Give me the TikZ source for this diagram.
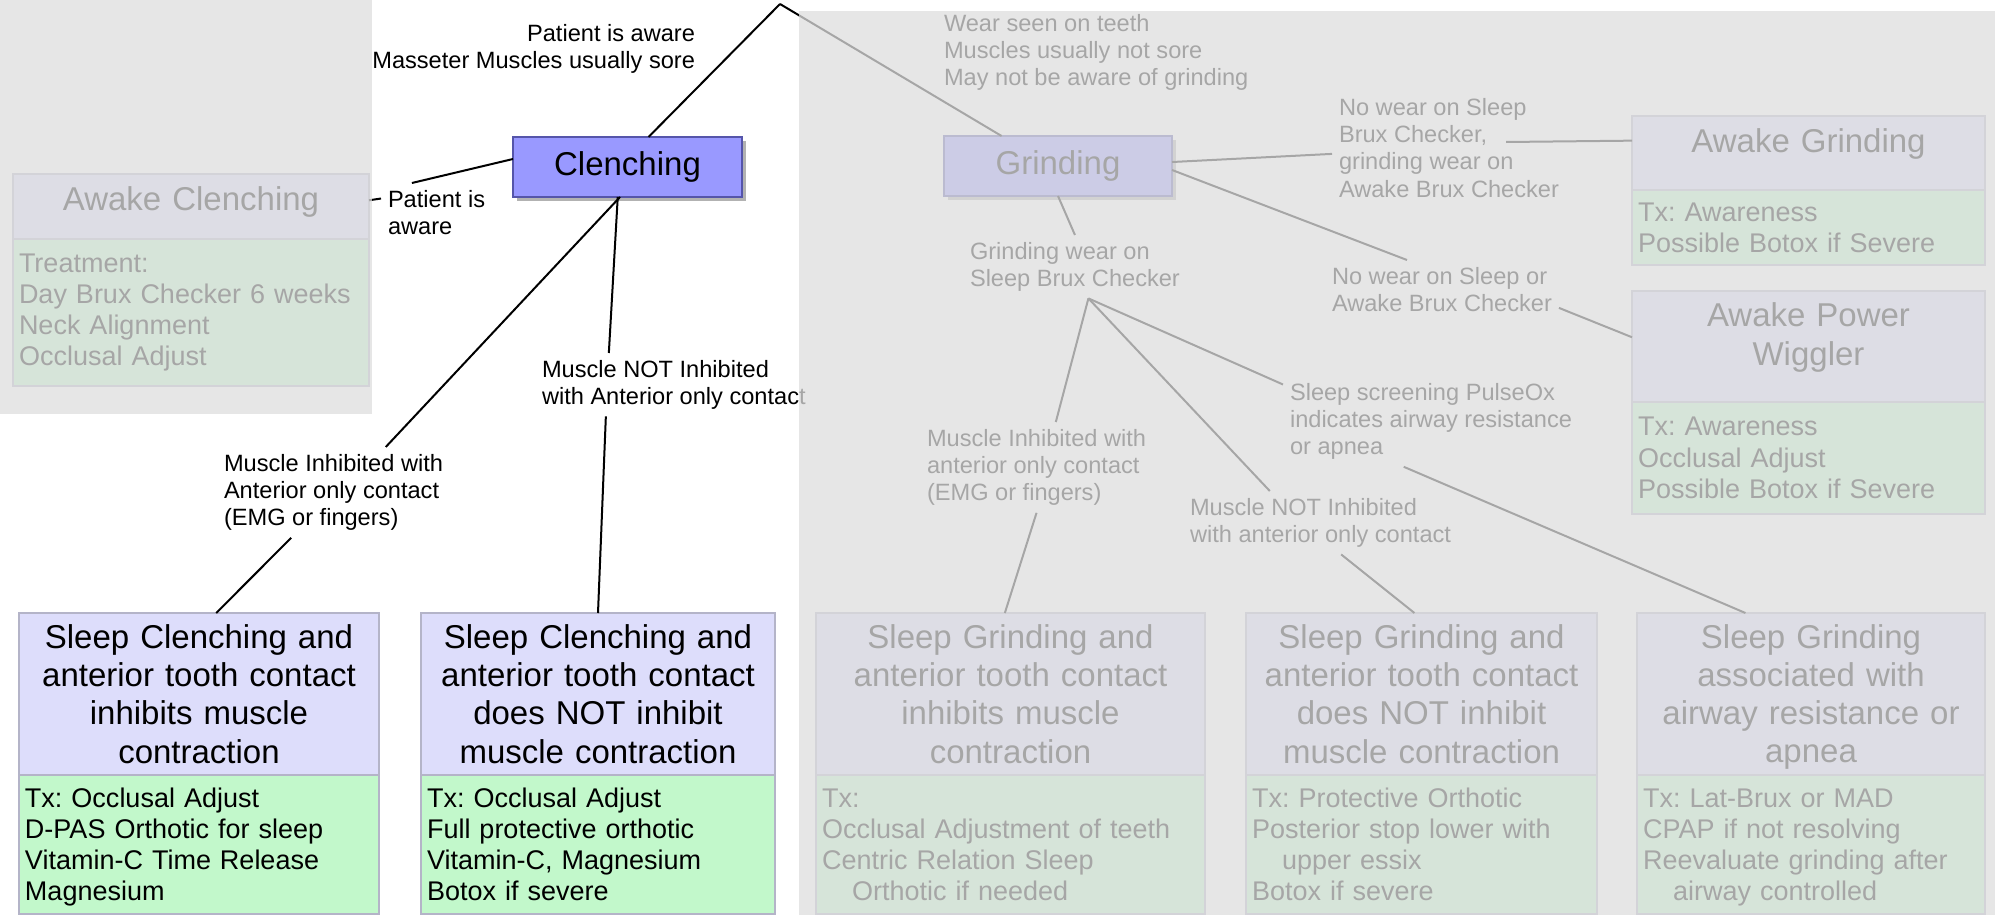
\documentclass[tikz,border=0pt]{standalone}
\usepackage{fontspec}
\setmainfont{Liberation Sans}
\frenchspacing
\usetikzlibrary{positioning,shadows}
\definecolor{boxlav}{HTML}{DDDDFB}
\definecolor{boxgreen}{HTML}{C2F8CB}
\definecolor{boxline}{HTML}{B4B4C8}
\definecolor{clenchblue}{HTML}{9999FF}
\definecolor{clenchline}{HTML}{5555AA}
\definecolor{fadegray}{HTML}{DEDEDE}

\begin{document}
\begin{tikzpicture}[x = 0.5pt, y = -0.5pt, line width = 1pt,
    hdr/.style = {fill = boxlav, draw = boxline, line width = 0.6pt, outer sep = 0pt, inner xsep = 3pt, inner ysep = 2pt, align = center, anchor = north west, font = \fontsize{16.5}{19.1}\selectfont},
    tx/.style = {fill = boxgreen, draw = boxline, line width = 0.6pt, outer sep = 0pt, inner xsep = 3pt, inner ysep = 2pt, align = left, font = \fontsize{13.5}{15.6}\selectfont},
    txb/.style = {tx, minimum height = 68.5pt, execute at begin node = \rule{0pt}{14pt}, execute at end node = \strut},
    main/.style = {fill = clenchblue, draw = clenchline, line width = 0.8pt, outer sep = 0pt, minimum height = 30pt, anchor = north west, font = \fontsize{16.5}{19.1}\selectfont, drop shadow = {shadow xshift = 2pt, shadow yshift = -2pt, fill = black!60, opacity = 0.5}},
    lbl/.style = {inner sep = 3pt, align = left, anchor = north west, font = \fontsize{11.8}{13.7}\selectfont}]
      \useasboundingbox (0, 0) rectangle (1995, 915);

      \node[main, minimum width = 114.5pt] (clench) at (513, 137) {Clenching};
      \node[main, minimum width = 114pt] (grind) at (944, 136) {Grinding};
      \coordinate (root) at (780, 4);

      \node[hdr, text width = 172pt, minimum height = 32.5pt, text depth = 7.7pt] (awc) at (13, 174) {Awake Clenching};
      \node[tx, below = 0pt of awc, text width = 172pt, minimum height = 73.5pt] (awctx) {Treatment:\\Day Brux Checker 6 weeks\\Neck Alignment\\Occlusal Adjust};
      \node[hdr, text width = 170.5pt, minimum height = 37pt, text depth = 12.7pt] (awg) at (1632, 116) {Awake Grinding};
      \node[tx, below = 0pt of awg, text width = 170.5pt, minimum height = 37.5pt] (awgtx) {Tx: Awareness\\Possible Botox if Severe};
      \node[hdr, text width = 170.5pt, minimum height = 55.5pt] (apw) at (1632, 291) {Awake Power\\Wiggler\rule[-12.4pt]{0pt}{12.4pt}};
      \node[tx, below = 0pt of apw, text width = 170.5pt, minimum height = 56pt] (apwtx) {Tx: Awareness\\Occlusal Adjust\\Possible Botox if Severe};

      \node[hdr, text width = 174pt, minimum height = 81pt] (sc1) at (19, 613) {Sleep Clenching and\\anterior tooth contact\\inhibits muscle\\contraction};
      \node[txb, below = 0pt of sc1, text width = 174pt] (sc1tx) {Tx: Occlusal Adjust\\D-PAS Orthotic for sleep\\Vitamin-C Time Release\\Magnesium};
      \node[hdr, text width = 171pt, minimum height = 81pt] (sc2) at (421, 613) {Sleep Clenching and\\anterior tooth contact\\does NOT inhibit\\muscle contraction};
      \node[txb, below = 0pt of sc2, text width = 171pt] (sc2tx) {Tx: Occlusal Adjust\\Full protective orthotic\\Vitamin-C, Magnesium\\Botox if severe};
      \node[hdr, text width = 188.5pt, minimum height = 81pt] (sg1) at (816, 613) {Sleep Grinding and\\anterior tooth contact\\inhibits muscle\\contraction};
      \node[txb, below = 0pt of sg1, text width = 188.5pt] (sg1tx) {Tx:\\Occlusal Adjustment of teeth\\Centric Relation Sleep\\\hspace*{15pt}Orthotic if needed};
      \node[hdr, text width = 169.5pt, minimum height = 81pt] (sg2) at (1246, 613) {Sleep Grinding and\\anterior tooth contact\\does NOT inhibit\\muscle contraction};
      \node[txb, below = 0pt of sg2, text width = 169.5pt] (sg2tx) {Tx: Protective Orthotic\\Posterior stop lower with\\\hspace*{15pt}upper essix\\Botox if severe};
      \node[hdr, text width = 168pt, minimum height = 81pt] (sg3) at (1637, 613) {\rule{0pt}{15pt}Sleep Grinding\\associated with\\airway resistance or\\apnea};
      \node[txb, below = 0pt of sg3, text width = 168pt] (sg3tx) {Tx: Lat-Brux or MAD\\CPAP if not resolving\\Reevaluate grinding after\\\hspace*{15pt}airway controlled};

      \node[lbl, anchor = north east, align = right] (lAware) at (702, 17) {Patient is aware\\Masseter Muscles usually sore};
      \node[lbl] (lPat) at (381, 183) {Patient is\\aware};
      \node[lbl] (lCI) at (217, 447) {Muscle Inhibited with\\Anterior only contact\\(EMG or fingers)};
      \node[lbl] (lCN) at (535, 353) {Muscle NOT Inhibited\\with Anterior only contact};
      \node[lbl] (lWear) at (937, 7) {Wear seen on teeth\\Muscles usually not sore\\May not be aware of grinding};
      \node[lbl] (lNoW1) at (1332, 91) {No wear on Sleep\\Brux Checker,\\grinding wear on\\Awake Brux Checker};
      \node[lbl] (lNoW2) at (1325, 260) {No wear on Sleep or\\Awake Brux Checker};
      \node[lbl] (lGW) at (963, 235) {Grinding wear on\\Sleep Brux Checker};
      \node[lbl] (lGI) at (920, 422) {Muscle Inhibited with\\anterior only contact\\(EMG or fingers)};
      \node[lbl] (lGN) at (1183, 491) {Muscle NOT Inhibited\\with anterior only contact};
      \node[lbl] (lPulse) at (1283, 376) {Sleep screening PulseOx\\indicates airway resistance\\or apnea};
      \coordinate (nw1r) at (1506, 142);

      \draw (root) -- (clench.55);
      \draw (root) -- (grind.152);
      \draw (clench.176) -- (lPat.130);
      \draw (awc.2) -- (lPat.166);
      \draw (clench.256) -- (lCI.41);
      \draw (lCI.227) -- (sc1.78);
      \draw (clench.252) -- (lCN.154);
      \draw (lCN.205) -- (sc2.north);

      \draw (grind.south) -- (lGW.north);
      \draw (lGW.-67) -- (lGI.67);
      \draw (lGI.south) -- (sg1.94);
      \draw (lGW.-67) -- (lGN.148);
      \draw (lGN.-57) -- (sg2.95);
      \draw (lGW.-67) -- (lPulse.166);
      \draw (lPulse.239) -- (sg3.129);
      \draw (grind.2) -- (lNoW1.183);
      \draw (nw1r) -- (awg.176);
      \draw (grind.-2) -- (lNoW2.140);
      \draw (lNoW2.-9) -- (apw.177);

      \fill[fadegray, opacity = 0.75] (0, 0) rectangle (372, 414);
      \fill[fadegray, opacity = 0.75] (799, 11) rectangle (1995, 915);
    \end{tikzpicture}
\end{document}
